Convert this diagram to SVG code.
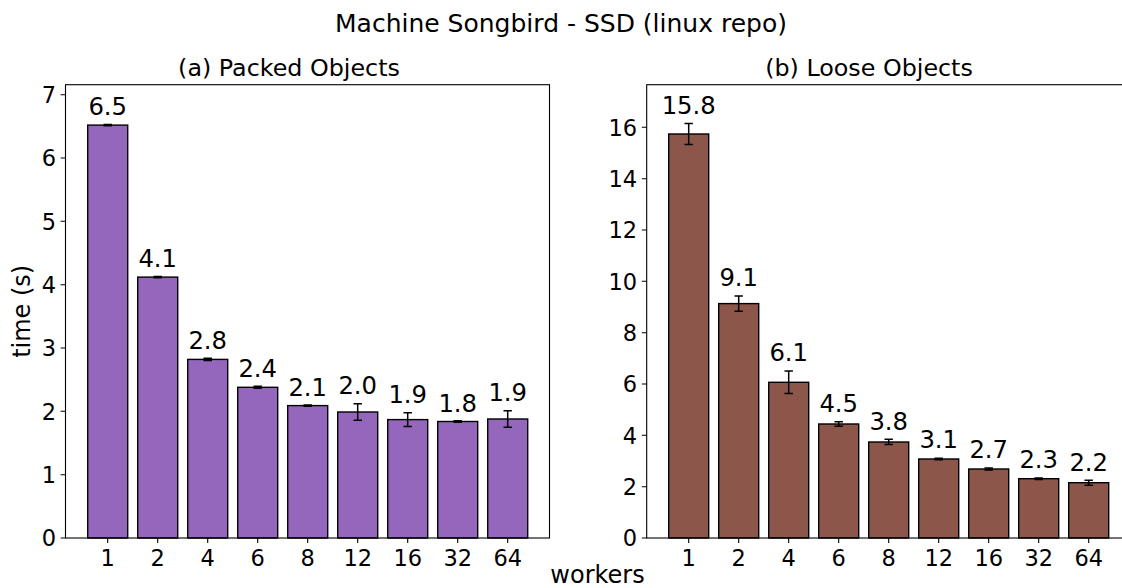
<svg xmlns="http://www.w3.org/2000/svg" width="1122" height="588" viewBox="0 0 1122 588">
<style>
text{font-family:"DejaVu Sans","Liberation Sans",sans-serif;fill:#000}
.tick{font-size:22.5px}
.yt{text-anchor:end}
.xt{text-anchor:middle}
.lbl{font-size:24.3px;text-anchor:middle}
.ttl{font-size:23.8px;text-anchor:middle}
.axl{font-size:24px;text-anchor:middle}
.spine{fill:none;stroke:#000;stroke-width:1.1}
.tk{stroke:#000;stroke-width:1.1}
.pb{fill:#9467bd;stroke:#000;stroke-width:1.4}
.bb{fill:#8c564b;stroke:#000;stroke-width:1.4}
.err{stroke:#000;stroke-width:1.5;fill:none}
</style>
<rect width="1122" height="588" fill="#fff"/>
<text x="561" y="32" style="font-size:25px;text-anchor:middle">Machine Songbird - SSD (linux repo)</text>

<g id="panel-a">
<text class="ttl" x="289" y="76">(a) Packed Objects</text>
<g id="bars-a">
<rect class="pb" x="87.7" y="125.1" width="40" height="412.9"/>
<rect class="pb" x="137.7" y="277.1" width="40" height="260.9"/>
<rect class="pb" x="187.7" y="359.4" width="40" height="178.6"/>
<rect class="pb" x="237.7" y="387.3" width="40" height="150.7"/>
<rect class="pb" x="287.7" y="405.6" width="40" height="132.4"/>
<rect class="pb" x="337.7" y="412" width="40" height="126"/>
<rect class="pb" x="387.7" y="419.6" width="40" height="118.4"/>
<rect class="pb" x="437.7" y="421.5" width="40" height="116.5"/>
<rect class="pb" x="487.7" y="419" width="40" height="119"/>
</g>
<g id="errs-a">
<path class="err" d="M107.7 124.5V125.7M103.5 124.5H111.9M103.5 125.7H111.9"/>
<path class="err" d="M157.7 276.5V277.7M153.5 276.5H161.9M153.5 277.7H161.9"/>
<path class="err" d="M207.7 358.3V360.5M203.5 358.3H211.9M203.5 360.5H211.9"/>
<path class="err" d="M257.7 386.3V388.3M253.5 386.3H261.9M253.5 388.3H261.9"/>
<path class="err" d="M307.7 405V406.2M303.5 405H311.9M303.5 406.2H311.9"/>
<path class="err" d="M357.7 403.7V420.3M353.5 403.7H361.9M353.5 420.3H361.9"/>
<path class="err" d="M407.7 412.8V426.4M403.5 412.8H411.9M403.5 426.4H411.9"/>
<path class="err" d="M457.7 420.8V422.2M453.5 420.8H461.9M453.5 422.2H461.9"/>
<path class="err" d="M507.7 410.8V427.2M503.5 410.8H511.9M503.5 427.2H511.9"/>
</g>
<g id="labels-a">
<text class="lbl" x="107.7" y="114.5">6.5</text>
<text class="lbl" x="157.7" y="266.5">4.1</text>
<text class="lbl" x="207.7" y="349">2.8</text>
<text class="lbl" x="257.7" y="377">2.4</text>
<text class="lbl" x="307.7" y="395.5">2.1</text>
<text class="lbl" x="357.7" y="393.5">2.0</text>
<text class="lbl" x="407.7" y="403">1.9</text>
<text class="lbl" x="457.7" y="411.5">1.8</text>
<text class="lbl" x="507.7" y="401">1.9</text>
</g>
<rect class="spine" x="65.5" y="84.7" width="484" height="453.3"/>
<g id="yticks-a">
<path class="tk" d="M60.6 538H65.5M60.6 474.7H65.5M60.6 411.3H65.5M60.6 348H65.5M60.6 284.7H65.5M60.6 221.3H65.5M60.6 158H65.5M60.6 94.7H65.5"/>
<text class="tick yt" x="56" y="546.2">0</text>
<text class="tick yt" x="56" y="482.9">1</text>
<text class="tick yt" x="56" y="419.5">2</text>
<text class="tick yt" x="56" y="356.2">3</text>
<text class="tick yt" x="56" y="292.9">4</text>
<text class="tick yt" x="56" y="229.5">5</text>
<text class="tick yt" x="56" y="166.2">6</text>
<text class="tick yt" x="56" y="102.9">7</text>
</g>
<g id="xticks-a">
<path class="tk" d="M107.7 538V542.9M157.7 538V542.9M207.7 538V542.9M257.7 538V542.9M307.7 538V542.9M357.7 538V542.9M407.7 538V542.9M457.7 538V542.9M507.7 538V542.9"/>
<text class="tick xt" x="107.7" y="566">1</text>
<text class="tick xt" x="157.7" y="566">2</text>
<text class="tick xt" x="207.7" y="566">4</text>
<text class="tick xt" x="257.7" y="566">6</text>
<text class="tick xt" x="307.7" y="566">8</text>
<text class="tick xt" x="357.7" y="566">12</text>
<text class="tick xt" x="407.7" y="566">16</text>
<text class="tick xt" x="457.7" y="566">32</text>
<text class="tick xt" x="507.7" y="566">64</text>
</g>
<text class="axl" transform="translate(30 311.3) rotate(-90)">time (s)</text>
</g>

<g id="panel-b">
<text class="ttl" x="869" y="76">(b) Loose Objects</text>
<g id="bars-b">
<rect class="bb" x="668.7" y="134" width="40" height="404"/>
<rect class="bb" x="718.7" y="303.6" width="40" height="234.4"/>
<rect class="bb" x="768.7" y="382.3" width="40" height="155.7"/>
<rect class="bb" x="818.7" y="424" width="40" height="114"/>
<rect class="bb" x="868.7" y="442" width="40" height="96"/>
<rect class="bb" x="918.7" y="459" width="40" height="79"/>
<rect class="bb" x="968.7" y="469" width="40" height="69"/>
<rect class="bb" x="1018.7" y="478.7" width="40" height="59.3"/>
<rect class="bb" x="1068.7" y="482.7" width="40" height="55.3"/>
</g>
<g id="errs-b">
<path class="err" d="M688.7 123.5V144.5M684.5 123.5H692.9M684.5 144.5H692.9"/>
<path class="err" d="M738.7 296V311.2M734.5 296H742.9M734.5 311.2H742.9"/>
<path class="err" d="M788.7 371V393.5M784.5 371H792.9M784.5 393.5H792.9"/>
<path class="err" d="M838.7 421.7V426.3M834.5 421.7H842.9M834.5 426.3H842.9"/>
<path class="err" d="M888.7 439.3V444.5M884.5 439.3H892.9M884.5 444.5H892.9"/>
<path class="err" d="M938.7 458.2V459.8M934.5 458.2H942.9M934.5 459.8H942.9"/>
<path class="err" d="M988.7 468V470M984.5 468H992.9M984.5 470H992.9"/>
<path class="err" d="M1038.7 478V479.4M1034.5 478H1042.9M1034.5 479.4H1042.9"/>
<path class="err" d="M1088.7 480.3V485.3M1084.5 480.3H1092.9M1084.5 485.3H1092.9"/>
</g>
<g id="labels-b">
<text class="lbl" x="688.7" y="114">15.8</text>
<text class="lbl" x="738.7" y="286">9.1</text>
<text class="lbl" x="788.7" y="361">6.1</text>
<text class="lbl" x="838.7" y="411.5">4.5</text>
<text class="lbl" x="888.7" y="429.8">3.8</text>
<text class="lbl" x="938.7" y="448.3">3.1</text>
<text class="lbl" x="988.7" y="458.3">2.7</text>
<text class="lbl" x="1038.7" y="468.3">2.3</text>
<text class="lbl" x="1088.7" y="471">2.2</text>
</g>
<rect class="spine" x="646.7" y="84.7" width="484" height="453.3"/>
<g id="yticks-b">
<path class="tk" d="M641.8 538H646.7M641.8 486.7H646.7M641.8 435.3H646.7M641.8 384H646.7M641.8 332.7H646.7M641.8 281.3H646.7M641.8 230H646.7M641.8 178.7H646.7M641.8 127.3H646.7"/>
<text class="tick yt" x="637.2" y="546.2">0</text>
<text class="tick yt" x="637.2" y="494.9">2</text>
<text class="tick yt" x="637.2" y="443.5">4</text>
<text class="tick yt" x="637.2" y="392.2">6</text>
<text class="tick yt" x="637.2" y="340.9">8</text>
<text class="tick yt" x="637.2" y="289.5">10</text>
<text class="tick yt" x="637.2" y="238.2">12</text>
<text class="tick yt" x="637.2" y="186.9">14</text>
<text class="tick yt" x="637.2" y="135.5">16</text>
</g>
<g id="xticks-b">
<path class="tk" d="M688.7 538V542.9M738.7 538V542.9M788.7 538V542.9M838.7 538V542.9M888.7 538V542.9M938.7 538V542.9M988.7 538V542.9M1038.7 538V542.9M1088.7 538V542.9"/>
<text class="tick xt" x="688.7" y="566">1</text>
<text class="tick xt" x="738.7" y="566">2</text>
<text class="tick xt" x="788.7" y="566">4</text>
<text class="tick xt" x="838.7" y="566">6</text>
<text class="tick xt" x="888.7" y="566">8</text>
<text class="tick xt" x="938.7" y="566">12</text>
<text class="tick xt" x="988.7" y="566">16</text>
<text class="tick xt" x="1038.7" y="566">32</text>
<text class="tick xt" x="1088.7" y="566">64</text>
</g>
</g>
<text class="axl" x="597.5" y="583">workers</text>
</svg>
